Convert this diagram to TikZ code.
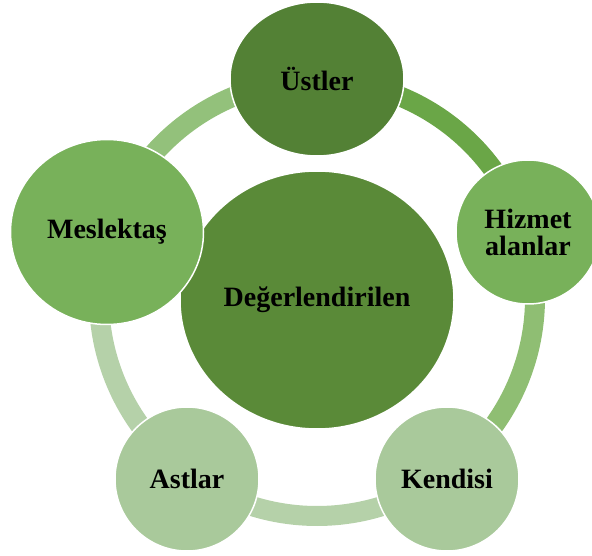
\documentclass[tikz,border=0pt]{standalone}
\usepackage{fontspec}
\setmainfont{Liberation Serif}
\usetikzlibrary{shapes.geometric,backgrounds}
\definecolor{gDark}{HTML}{538135}
\definecolor{gHub}{HTML}{5A8A38}
\definecolor{gMid}{HTML}{78B15A}
\definecolor{gPale}{HTML}{A9C99B}
\definecolor{arcOne}{HTML}{6AA647}
\definecolor{arcTwo}{HTML}{8FBE73}
\definecolor{arcThree}{HTML}{B5D1A9}
\definecolor{arcFive}{HTML}{93C17B}
\tikzset{
	bubble/.style={ellipse, draw=white, line width=1.5pt, inner sep=0pt, align=center,
		font=\bfseries\fontsize{28}{27}\selectfont},
	ringseg/.style={line width=20pt},
}

\begin{document}
\begin{tikzpicture}[x=1pt,y=1pt]
		\useasboundingbox (0,0) rectangle (592,555);
		\coordinate (hub) at (317,257);
		
		%%%%% CIRCLES %%%%%
		\node[bubble, fill=gHub, minimum width=274pt, minimum height=258pt] (merkez) at (317,255) {De\u{g}erlendirilen};
		\node[bubble, fill=gDark, minimum width=174pt, minimum height=154pt] (ust) at (317,476) {Üstler};
		\node[bubble, fill=gMid, minimum width=144pt, minimum height=144pt] (hizmet) at (528,323) {Hizmet\\alanlar};
		\node[bubble, fill=gPale, minimum width=144pt, minimum height=144pt] (kendisi) at (447,76) {Kendisi};
		\node[bubble, fill=gPale, minimum width=144pt, minimum height=144pt] (astlar) at (187,76) {Astlar};
		\node[bubble, fill=gMid, minimum width=193pt, minimum height=185pt] (meslektas) at (107,323) {Meslektaş};
		
		%%%%% RING %%%%%
		\begin{scope}[on background layer]
			\draw[ringseg, arcOne] (hub) ++(90:218) arc[start angle=90, end angle=18, radius=218pt];
			\draw[ringseg, arcTwo] (hub) ++(18:218) arc[start angle=18, end angle=-54, radius=218pt];
			\draw[ringseg, arcThree] (hub) ++(-54:218) arc[start angle=-54, end angle=-126, radius=218pt];
			\draw[ringseg, arcThree] (hub) ++(-126:218) arc[start angle=-126, end angle=-198, radius=218pt];
			\draw[ringseg, arcFive] (hub) ++(162:218) arc[start angle=162, end angle=90, radius=218pt];
		\end{scope}
	\end{tikzpicture}
\end{document}
